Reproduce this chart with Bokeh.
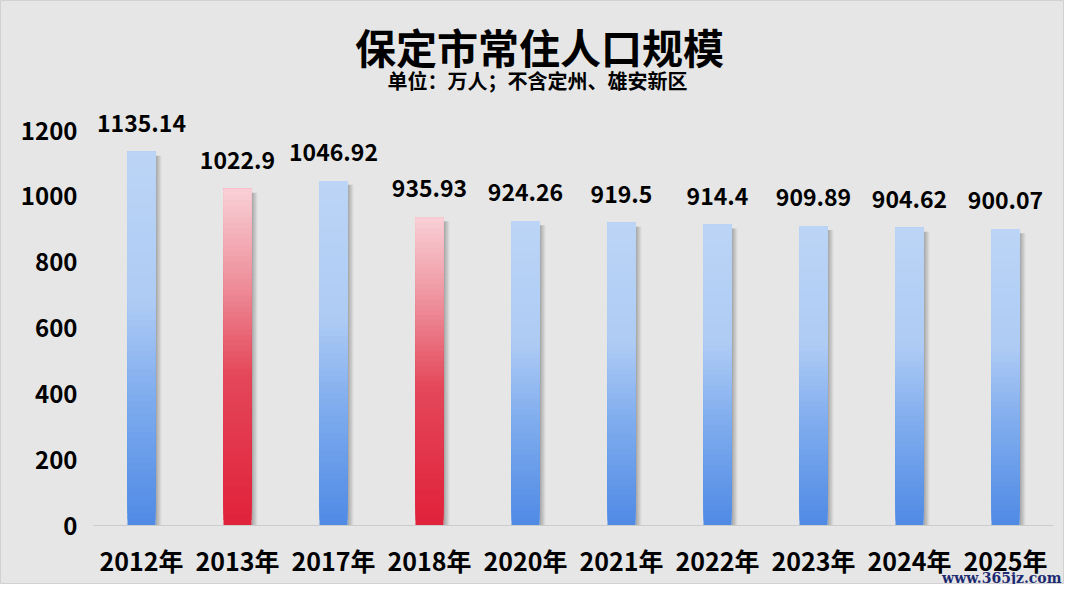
from bokeh.plotting import figure
from bokeh.models import FixedTicker, ColumnDataSource, Label
from bokeh.embed import file_html
from bokeh.resources import INLINE
from bokeh.core.properties import value

years = ["2012年", "2013年", "2017年", "2018年", "2020年", "2021年", "2022年", "2023年", "2024年", "2025年"]
population = [1135.14, 1022.9, 1046.92, 935.93, 924.26, 919.5, 914.4, 909.89, 904.62, 900.07]
label_texts = ["1135.14", "1022.9", "1046.92", "935.93", "924.26", "919.5", "914.4", "909.89", "904.62", "900.07"]
highlight = [False, True, False, True, False, False, False, False, False, False]
y_ticks = [0, 200, 400, 600, 800, 1000, 1200]

title_text = "保定市常住人口规模"
subtitle_text = "单位：万人；不含定州、雄安新区"
watermark = "www.365jz.com"

BG = "#e6e6e6"
FONT = "Noto Sans CJK SC"
BLUE_STOPS = [(0.0, "#4f8ae5"), (0.35, "#80adee"), (0.6, "#aecbf4"), (1.0, "#bcd5f6")]
RED_STOPS = [(0.0, "#e0213a"), (0.45, "#e4485a"), (0.72, "#ee8f9b"), (1.0, "#f9d0d6")]

W, H = 1064, 584


def hex2rgb(h):
    h = h.lstrip("#")
    return tuple(int(h[i:i + 2], 16) for i in (0, 2, 4))


def interp(stops, t):
    for (t0, c0), (t1, c1) in zip(stops[:-1], stops[1:]):
        if t <= t1:
            f = (t - t0) / (t1 - t0) if t1 > t0 else 0
            a, b = hex2rgb(c0), hex2rgb(c1)
            return "#%02x%02x%02x" % tuple(int(round(a[i] + (b[i] - a[i]) * f)) for i in range(3))
    return stops[-1][1]


xs = list(range(len(years)))
BAR_HALF = 0.146
N = 60

# gradient: each slice runs from its own bottom up to the bar top; later slices cover earlier ones
sl = dict(left=[], right=[], bottom=[], top=[], color=[])
for i in range(N):
    for x, v, hl in zip(xs, population, highlight):
        stops = RED_STOPS if hl else BLUE_STOPS
        sl["left"].append(x - BAR_HALF)
        sl["right"].append(x + BAR_HALF)
        sl["bottom"].append(v * i / N)
        sl["top"].append(v)
        sl["color"].append(interp(stops, (i + 0.5) / N))

# frame covers the whole canvas; axes are pinned inside it
slot_px = 96.0
first_px = 141.0
base_px = 525.0
px_per_unit = (525.0 - 130.0) / 1200.0
x_lo = -first_px / slot_px
x_hi = (W - first_px) / slot_px
y_hi = base_px / px_per_unit
y_lo = -(H - base_px) / px_per_unit

p = figure(width=W, height=H, output_backend="svg", toolbar_location=None,
           x_range=(x_lo, x_hi), y_range=(y_lo, y_hi),
           background_fill_color=BG, border_fill_color=BG, min_border=0)
p.outline_line_color = "#d2d2d2"
p.grid.visible = False

# shadows
shadow_layers = [(0.0, 0.021, 0.5), (0.021, 0.042, 0.3), (0.042, 0.06, 0.12)]
for a, b, alpha in shadow_layers:
    p.quad(left=[x + BAR_HALF + a for x in xs], right=[x + BAR_HALF + b for x in xs],
           bottom=[0] * len(xs), top=[v - 12 for v in population],
           fill_color="#6e6e6e", fill_alpha=alpha, line_color=None)

p.quad(left="left", right="right", bottom="bottom", top="top", fill_color="color",
       line_color=None, source=ColumnDataSource(sl))

p.text(x=xs, y=population, text=label_texts, text_align="center", text_baseline="bottom",
       y_offset=-20, text_font=value(FONT), text_font_style="bold", text_font_size="23px",
       text_color="#000000")

# axes
p.yaxis.fixed_location = -0.5
p.yaxis.ticker = FixedTicker(ticks=y_ticks)
p.yaxis.axis_line_color = None
p.yaxis.major_tick_line_color = None
p.yaxis.minor_tick_line_color = None
p.yaxis.major_label_text_font = FONT
p.yaxis.major_label_text_font_style = "bold"
p.yaxis.major_label_text_font_size = "24px"
p.yaxis.major_label_text_color = "#000000"
p.yaxis.major_label_standoff = 10

p.xaxis.fixed_location = 0
p.xaxis.bounds = (-0.5, len(years) - 0.5)
p.xaxis.ticker = FixedTicker(ticks=xs)
p.xaxis.major_label_overrides = {i: y for i, y in enumerate(years)}
p.xaxis.axis_line_color = "#cccccc"
p.xaxis.axis_line_width = 1
p.xaxis.major_tick_line_color = None
p.xaxis.minor_tick_line_color = None
p.xaxis.major_label_text_font = FONT
p.xaxis.major_label_text_font_style = "bold"
p.xaxis.major_label_text_font_size = "25px"
p.xaxis.major_label_text_color = "#000000"
p.xaxis.major_label_standoff = 10

p.add_layout(Label(x=539, y=H - 45, x_units="screen", y_units="screen", text=title_text,
                   text_align="center", text_baseline="middle", text_font=FONT,
                   text_font_style="bold", text_font_size="41px", text_color="#000000"))
p.add_layout(Label(x=537, y=H - 80, x_units="screen", y_units="screen", text=subtitle_text,
                   text_align="center", text_baseline="middle", text_font=FONT,
                   text_font_style="bold", text_font_size="20px", text_color="#000000"))
p.add_layout(Label(x=1061, y=7, x_units="screen", y_units="screen", text=watermark,
                   text_align="right", text_baseline="middle", text_font="DejaVu Serif",
                   text_font_style="bold", text_font_size="14px", text_color="#1c2b72"))

open("out.html", "w").write(file_html(p, INLINE))
